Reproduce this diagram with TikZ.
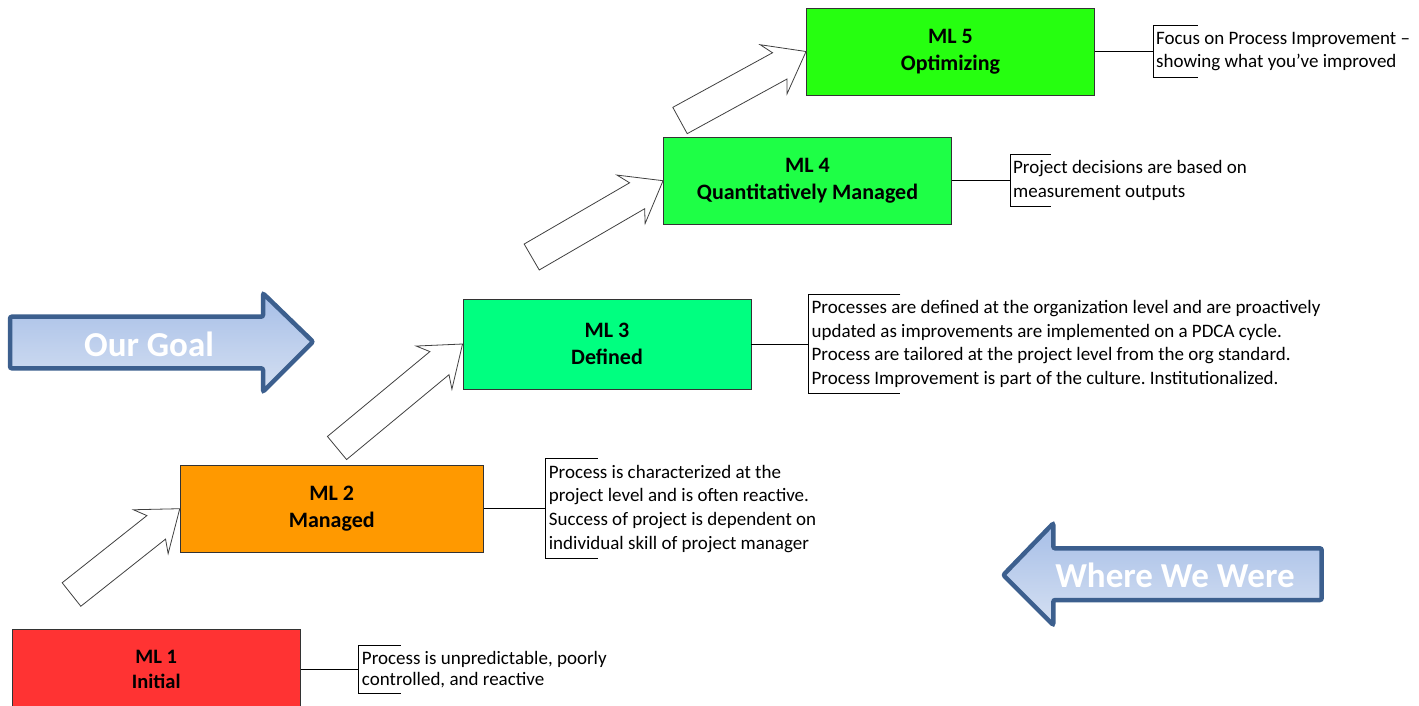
\documentclass[tikz,border=0pt]{standalone}
\usepackage{fontspec}
\setmainfont{Carlito}
\frenchspacing
\usetikzlibrary{positioning,calc}
\definecolor{mlred}{HTML}{FF3333}
\definecolor{mlorange}{HTML}{FF9900}
\definecolor{mlspring}{HTML}{00FF80}
\definecolor{mllime}{HTML}{1EFF46}
\definecolor{mlgreen}{HTML}{26FF10}
\definecolor{arrowblue}{HTML}{3C5F8E}
\definecolor{arrowtop}{HTML}{A6BEE7}
\definecolor{arrowbottom}{HTML}{D5E0F2}
\tikzset{%
   mlbox/.style={draw=black!80, line width=0.9pt, minimum width=288pt, minimum height=87pt, align=center, font=\fontsize{22}{27}\selectfont\bfseries},
   desc/.style={anchor=west, align=left, inner xsep=3pt, inner ysep=6pt, font=\fontsize{19}{23.7}\selectfont},
   link/.style={draw=black, line width=0.9pt},
   hollow/.style={draw=black!75, line width=0.8pt, fill=white},
   bigarrow/.style={draw=arrowblue, line width=4.5pt, rounded corners=2pt, top color=arrowtop, bottom color=arrowbottom},
   bigtext/.style={text=white, font=\fontsize{35}{40}\selectfont\bfseries},
}
\newcommand{\climbarrow}[2]{%
   \coordinate (neck) at ($(#2)!30pt!(#1)$);
   \coordinate (barb) at ($(#2)!37pt!(#1)$);
   \draw[hollow] ($(#1)!15pt!90:(#2)$) -- ($(neck)!15pt!90:(#2)$) -- ($(barb)!28pt!90:(#2)$) -- (#2)
      -- ($(barb)!28pt!-90:(#2)$) -- ($(neck)!15pt!-90:(#2)$) -- ($(#1)!15pt!-90:(#2)$) -- cycle;
}
\newcommand{\bracket}[2]{%
   \draw[link] ([xshift=#2]#1.north west) -- (#1.north west) -- (#1.south west) -- ([xshift=#2]#1.south west);
}

\begin{document}
\begin{tikzpicture}[x=1pt, y=-1pt]
   \useasboundingbox (0,0) rectangle (1419,705);
   \clip (0,0) rectangle (1419,705);

   \path[bigarrow] (10,316.7) -- (263,316.7) -- (263,293.3) -- (313,341.7) -- (263,391.7) -- (263,368.3) -- (10,368.3) -- cycle;
   \node[bigtext] (goal) at (149,344) {Our Goal};
   \path[bigarrow] (1321.7,548.3) -- (1053.3,548.3) -- (1053.3,523.3) -- (1003.3,575) -- (1053.3,625) -- (1053.3,600) -- (1321.7,600) -- cycle;
   \node[bigtext] (were) at (1175,575) {Where We Were};

   \node[mlbox, fill=mlred, minimum height=80pt, font=\fontsize{20.5}{25}\selectfont\bfseries] (ml1) at (156.3,669.7) {ML 1\\Initial};
   \node[mlbox, fill=mlorange, minimum width=303pt] (ml2) at (331.7,508.7) {ML 2\\Managed};
   \node[mlbox, fill=mlspring, minimum height=90pt] (ml3) at (607,344) {ML 3\\Defined};
   \node[mlbox, fill=mllime] (ml4) at (807.5,180.7) {ML 4\\Quantitatively Managed};
   \node[mlbox, fill=mlgreen] (ml5) at (950.5,51.5) {ML 5\\Optimizing};

   \coordinate (t1) at (71.5,594.5);
   \coordinate (t2) at (337,448);
   \coordinate (t3) at (531.7,257);
   \coordinate (t4) at (680,120.5);
   \climbarrow{t1}{ml2.west}
   \climbarrow{t2}{ml3.west}
   \climbarrow{t3}{ml4.west}
   \climbarrow{t4}{ml5.west}

   \node[desc, right=58pt of ml1, font=\fontsize{19}{21.6}\selectfont, inner ysep=5pt] (d1) {Process is unpredictable, poorly\\controlled, and reactive};
   \node[desc, right=62pt of ml2] (d2) {Process is characterized at the\\project level and is often reactive.\\Success of project is dependent on\\individual skill of project manager};
   \node[desc, right=57pt of ml3] (d3) {Processes are defined at the organization level and are proactively\\updated as improvements are implemented on a PDCA cycle.\\Process are tailored at the project level from the org standard.\\Process Improvement is part of the culture. Institutionalized.};
   \node[desc, right=58pt of ml4] (d4) {Project decisions are based on\\measurement outputs};
   \node[desc, right=58pt of ml5] (d5) {Focus on Process Improvement --\\showing what you’ve improved};

   \draw[link] (ml1) -- (d1);
   \draw[link] (ml2) -- (d2);
   \draw[link] (ml3) -- (d3);
   \draw[link] (ml4) -- (d4);
   \draw[link] (ml5) -- (d5);
   \bracket{d1}{42pt}
   \bracket{d2}{52pt}
   \bracket{d3}{92pt}
   \bracket{d4}{41pt}
   \bracket{d5}{45pt}
\end{tikzpicture}
\end{document}
